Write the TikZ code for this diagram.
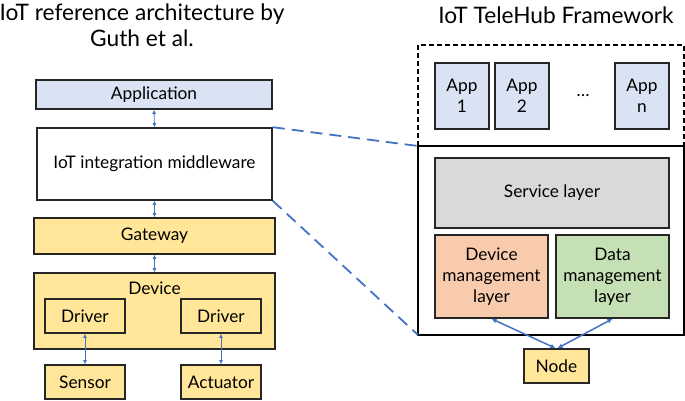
\documentclass[tikz,border=0pt]{standalone}
\usepackage{fontspec}
\setmainfont{Lato}
\usetikzlibrary{arrows.meta}
\definecolor{appblue}{HTML}{DAE3F3}
\definecolor{gold}{HTML}{FFE699}
\definecolor{svcgray}{HTML}{D9D9D9}
\definecolor{devorange}{HTML}{F8CBAD}
\definecolor{datagreen}{HTML}{C5E0B4}
\definecolor{linkblue}{HTML}{4472C4}
\tikzset{
  box/.style={draw=black!85, line width=1.6pt, inner sep=0pt, font=\fontsize{17.3}{21}\selectfont, align=center},
  frame/.style={draw=black, line width=1.6pt},
  thinlink/.style={linkblue, line width=0.8pt, {Latex[length=4pt,width=4pt]}-{Latex[length=4pt,width=4pt]}},
  thicklink/.style={linkblue, line width=1.5pt, {Latex[length=5pt,width=5pt]}-{Latex[length=5pt,width=5pt]}},
  zoomline/.style={linkblue, line width=1.8pt, dash pattern=on 12pt off 7pt},
  title/.style={font=\fontsize{22.7}{26}\selectfont, align=center}
}
\begin{document}
\begin{tikzpicture}[x=1pt,y=-1pt]
\useasboundingbox (0,0) rectangle (685,400);
% titles
\node[title] (t1) at (142,25) {IoT reference architecture by\\Guth et al.};
\node[title] (t2) at (556,15) {IoT TeleHub Framework};
% left stack
\node[box, fill=appblue, minimum width=236pt, minimum height=29pt] (app) at (154,94.5) {Application};
\node[box, fill=white, minimum width=235pt, minimum height=72pt] (mw) at (154.5,164) {IoT integration middleware};
\node[box, fill=gold, minimum width=241pt, minimum height=36pt] (gw) at (154.5,236) {Gateway};
\node[box, fill=gold, minimum width=241pt, minimum height=76pt] (dev) at (154.5,311) {};
\node[font=\fontsize{17.3}{21}\selectfont] (devlbl) at (154.5,288) {Device};
\node[box, fill=gold, minimum width=80pt, minimum height=34pt] (drv1) at (85,316) {Driver};
\node[box, fill=gold, minimum width=80pt, minimum height=34pt] (drv2) at (221,316) {Driver};
\node[box, fill=gold, minimum width=80pt, minimum height=34pt] (sen) at (85,382) {Sensor};
\node[box, fill=gold, minimum width=80pt, minimum height=34pt] (act) at (221,382) {Actuator};
\draw[thinlink] (app.south) -- (mw.north);
\draw[thinlink] (mw.south) -- (gw.north);
\draw[thinlink] (gw.south) -- (dev.north);
\draw[thinlink] (drv1.south) -- (sen.north);
\draw[thinlink] (drv2.south) -- (act.north);
% right framework
\coordinate (dtl) at (418,45);
\coordinate (dbr) at (684,146);
\coordinate (stl) at (418,146);
\coordinate (sbl) at (418,335);
\coordinate (sbr) at (684,335);
\draw[line width=1.4pt, dashed, dash pattern=on 5pt off 3pt] (418,146) -- (dtl) -- (684,45) -- (dbr);
\draw[frame] (stl) rectangle (sbr);
\node[box, fill=appblue, minimum width=54pt, minimum height=66pt] (a1) at (462,96) {App\\1};
\node[box, fill=appblue, minimum width=54pt, minimum height=66pt] (a2) at (522,96) {App\\2};
\node[font=\fontsize{17.3}{21}\selectfont] (dots) at (583,96) {\dots};
\node[box, fill=appblue, minimum width=54pt, minimum height=66pt] (an) at (642,96) {App\\n};
\node[box, fill=svcgray, minimum width=234pt, minimum height=70pt] (svc) at (552,193) {Service layer};
\node[box, fill=devorange, minimum width=113pt, minimum height=83pt] (dm) at (491.5,276.5) {Device\\management\\layer};
\node[box, fill=datagreen, minimum width=113pt, minimum height=83pt] (da) at (612.5,276.5) {Data\\management\\layer};
\node[box, fill=gold, minimum width=65pt, minimum height=34pt] (nd) at (556.5,366) {Node};
\draw[thicklink] (dm.south) -- ([xshift=-1pt]nd.north);
\draw[thicklink] (da.south) -- ([xshift=1pt]nd.north);
% zoom lines
\draw[zoomline] (mw.north east) -- (stl);
\draw[zoomline] (mw.south east) -- (sbl);
\end{tikzpicture}
\end{document}
